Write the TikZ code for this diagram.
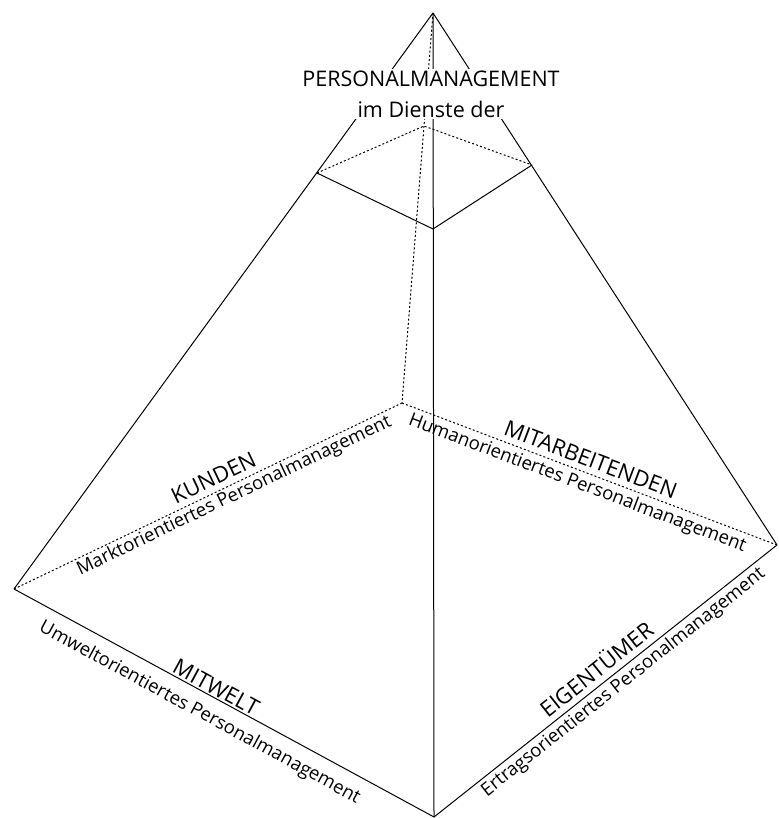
\documentclass[tikz,border=0pt]{standalone}
\usepackage{fontspec}
\setmainfont{Open Sans}
\begin{document}
\begin{tikzpicture}[x=1pt,y=-1pt,
  edge/.style={line width=1pt},
  hidden/.style={line width=1pt,dash pattern=on 2pt off 2.2pt},
  head/.style={font=\fontsize{22}{24}\selectfont,inner sep=1pt},
  sub/.style={font=\fontsize{18.5}{20}\selectfont,inner sep=1pt}]
\useasboundingbox (0,0) rectangle (778,818);
\coordinate (A) at (433,13);
\coordinate (L) at (14,589);
\coordinate (B) at (434,817);
\coordinate (R) at (777,545);
\coordinate (K) at (402,403);
\coordinate (P1) at (317,173);
\coordinate (P2) at (433,229);
\coordinate (P3) at (532,165);
\coordinate (P4) at (424,126);
% hidden edges
\draw[hidden] (A) -- (K);
\draw[hidden] (L) -- (K);
\draw[hidden] (K) -- (R);
\draw[hidden] (P1) -- (P4) -- (P3);
% visible edges
\draw[edge] (A) -- (L);
\draw[edge] (A) -- (R);
\draw[edge] (A) -- (B);
\draw[edge] (L) -- (B) -- (R);
\draw[edge] (P1) -- (P2) -- (P3);
% title
\node[fill=white,inner xsep=1pt,inner ysep=2pt,align=center,font=\fontsize{21.5}{31}\selectfont] (title) at (431,94)
  {PERSONALMANAGEMENT\\im Dienste der};
% labels
\path (L) -- (K)
  node[head,pos=0.53,sloped,above=5pt] (kunden) {KUNDEN}
  node[sub,pos=0.555,sloped,below=1pt] (kundensub) {Marktorientiertes Personalmanagement};
\path (K) -- (R)
  node[head,pos=0.49,sloped,above=5pt] (mitarb) {MITARBEITENDEN}
  node[sub,pos=0.48,sloped,below=3pt] (mitarbsub) {Humanorientiertes Personalmanagement};
\path (L) -- (B)
  node[head,pos=0.47,sloped,above=1pt] (mitwelt) {MITWELT}
  node[sub,pos=0.465,sloped,below=10pt] (mitweltsub) {Umweltorientiertes Personalmanagement};
\path (B) -- (R)
  node[head,pos=0.50,sloped,above=5pt] (eigen) {EIGENTÜMER}
  node[sub,pos=0.53,sloped,below=2pt] (eigensub) {Ertragsorientiertes Personalmanagement};
\end{tikzpicture}
\end{document}
